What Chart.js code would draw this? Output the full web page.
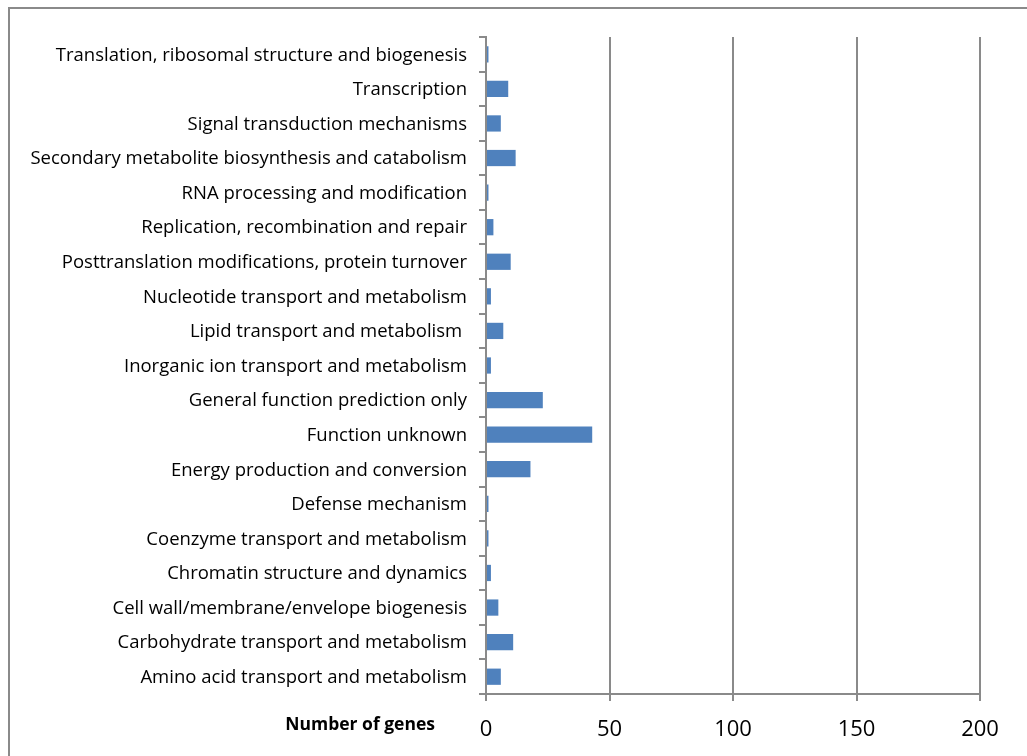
<!DOCTYPE html>
<html>
<head>
<meta charset="utf-8">
<script src="https://cdn.jsdelivr.net/npm/chart.js@4.4.0/dist/chart.umd.min.js"></script>
<style>
  html, body { margin: 0; padding: 0; background: #fff; overflow: hidden; }
  #wrap { position: relative; width: 1027px; height: 756px; }
  #frame { position: absolute; left: 8px; top: 7px; width: 1100px; height: 800px; border: 2px solid #8a8a8a; }
  canvas { position: absolute; left: 0; top: 0; }
</style>
</head>
<body>
<div id="wrap">
  <div id="frame"></div>
  <canvas id="chart" width="1027" height="756"></canvas>
</div>
<script>
// categories, top to bottom as drawn
const categories = [
  'Translation, ribosomal structure and biogenesis',
  'Transcription',
  'Signal transduction mechanisms',
  'Secondary metabolite biosynthesis and catabolism',
  'RNA processing and modification',
  'Replication, recombination and repair',
  'Posttranslation modifications, protein turnover',
  'Nucleotide transport and metabolism',
  'Lipid transport and metabolism ',
  'Inorganic ion transport and metabolism',
  'General function prediction only',
  'Function unknown',
  'Energy production and conversion',
  'Defense mechanism',
  'Coenzyme transport and metabolism',
  'Chromatin structure and dynamics',
  'Cell wall/membrane/envelope biogenesis',
  'Carbohydrate transport and metabolism',
  'Amino acid transport and metabolism'
];
const geneCounts = [1, 9, 6, 12, 1, 3, 10, 2, 7, 2, 23, 43, 18, 1, 1, 2, 5, 11, 6];
const xTicks = [0, 50, 100, 150, 200];
const axisTitle = 'Number of genes';

const gridGray = '#8a8a8a';

const titlePlugin = {
  id: 'axisTitle',
  afterDraw(chart) {
    const ctx = chart.ctx;
    ctx.save();
    ctx.font = 'bold 17.5px "Open Sans", sans-serif';
    ctx.fillStyle = '#000';
    ctx.textAlign = 'right';
    ctx.textBaseline = 'middle';
    ctx.fillText(axisTitle, 435, 725);
    ctx.restore();
  }
};

new Chart(document.getElementById('chart'), {
  type: 'bar',
  data: {
    labels: categories,
    datasets: [{
      data: geneCounts,
      backgroundColor: '#4F81BD',
      borderWidth: 0,
      barPercentage: 0.47,
      categoryPercentage: 1
    }]
  },
  options: {
    indexAxis: 'y',
    responsive: false,
    animation: false,
    events: [],
    layout: { padding: { top: 37, right: 47, bottom: 0, left: 0 } },
    plugins: { legend: { display: false }, tooltip: { enabled: false } },
    scales: {
      x: {
        min: 0,
        max: 200,
        afterBuildTicks(scale) { scale.ticks = xTicks.map(v => ({ value: v })); },
        afterFit(scale) { scale.height = 62; },
        grid: { color: gridGray, lineWidth: 2, tickLength: 7, drawOnChartArea: true },
        border: { color: gridGray, width: 2 },
        ticks: { color: '#000', font: { size: 22, family: '"Open Sans", sans-serif' }, padding: 16, maxRotation: 0 }
      },
      y: {
        afterFit(scale) { scale.width = 486; },
        grid: { color: gridGray, lineWidth: 2, tickLength: 7, drawOnChartArea: false, offset: true },
        border: { color: gridGray, width: 2 },
        ticks: { color: '#000', font: { size: 18.5, family: '"Open Sans", sans-serif' }, padding: 12, labelOffset: 1, autoSkip: false }
      }
    }
  },
  plugins: [titlePlugin]
});
</script>
</body>
</html>
